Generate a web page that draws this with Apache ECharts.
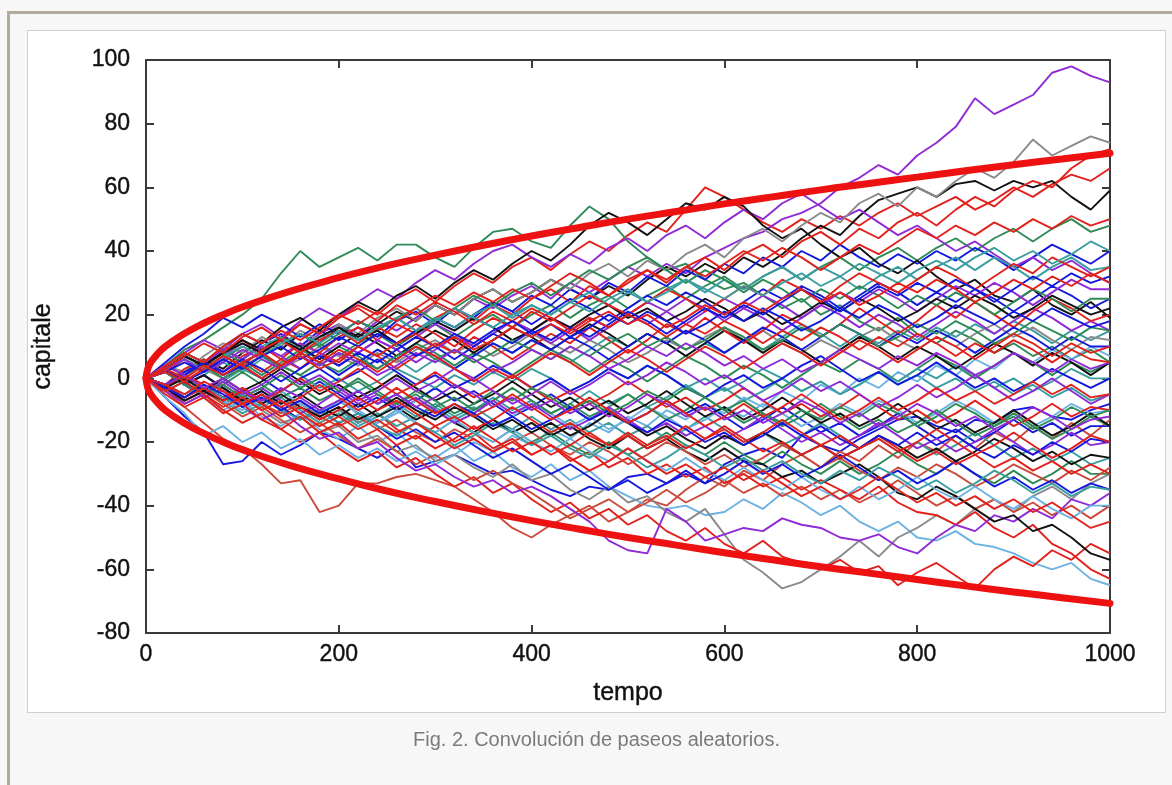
<!DOCTYPE html>
<html>
<head>
<meta charset="utf-8">
<title>Convolución de paseos aleatorios</title>
<script src="https://cdn.jsdelivr.net/npm/echarts@6/dist/echarts.min.js"></script>
<style>
  html, body { margin: 0; padding: 0; width: 1172px; height: 785px; overflow: hidden; background: #f7f7f7; }
  #frame { position: absolute; left: 7px; top: 11px; width: 1200px; height: 800px;
           border-top: 3px solid #b3aa9e; border-left: 3px solid #b3aa9e; }
  #card { position: absolute; left: 27px; top: 30px; width: 1137px; height: 681px;
          background: #fff; border: 1px solid #cfcfcf; }
  #chart { position: absolute; left: 0; top: 0; width: 1172px; height: 785px; }
  #caption { position: absolute; left: 27px; width: 1139px; top: 728px; text-align: center;
             font-family: 'Liberation Sans', Arial, sans-serif; font-size: 20px; color: #7a7a7a; }
</style>
</head>
<body>
<div id="frame"></div>
<div id="card"></div>
<div id="chart"></div>
<div id="caption">Fig. 2. Convolución de paseos aleatorios.</div>
<script>
// --- time axis (one sample every 20 steps) ---
var STEPS = [0,
  20,40,60,80,100,120,140,160,180,200,
  220,240,260,280,300,320,340,360,380,400,
  420,440,460,480,500,520,540,560,580,600,
  620,640,660,680,700,720,740,760,780,800,
  820,840,860,880,900,920,940,960,980,1000];

// --- envelope (thick red curve) ---
var ENV_T     = [0, 2, 5, 10, 20, 40, 60, 80, 100, 150, 200, 250, 300, 350, 400, 450, 500, 550, 600, 650, 700, 750, 800, 850, 900, 950, 1000];
var ENV_UPPER = [0, 3.2, 5, 7, 10, 14.1, 17.3, 20, 22.4, 27.4, 31.6, 35.4, 38.7, 41.8, 44.7, 47.4, 50, 52.4, 54.8, 57, 59.2, 61.2, 63.2, 65.2, 67.1, 68.9, 70.7];
var ENV_LOWER = [0, -3.2, -5, -7, -10, -14.1, -17.3, -20, -22.4, -27.4, -31.6, -35.4, -38.7, -41.8, -44.7, -47.4, -50, -52.4, -54.8, -57, -59.2, -61.2, -63.2, -65.2, -67.1, -68.9, -70.7];

// --- walks, grouped by colour (values read at STEPS) ---
var RED_WALKS = [
  [0, 3,7,4,9,12,8,13,17,14,19, 23,20,25,28,24,29,33,30,35,38, 34,39,43,40,45,49,46,53,60,57, 53,49,46,50,47,51,48,52,55,51, 54,57,53,56,60,57,61,64,62,66],
  [0, -3,-8,-5,-10,-14,-11,-16,-20,-17,-22, -26,-23,-28,-25,-30,-34,-31,-36,-33,-38, -42,-39,-44,-41,-46,-43,-48,-51,-47,-52, -55,-51,-56,-58,-60,-57,-61,-59,-65,-61, -58,-62,-66,-60,-56,-59,-54,-57,-52,-55],
  [0, 2,-2,-6,-3,-8,-5,-10,-7,-12,-9, -14,-11,-16,-19,-15,-20,-17,-22,-19,-24, -21,-26,-23,-28,-25,-30,-27,-31,-28,-33, -30,-34,-31,-35,-32,-35,-38,-34,-39,-42, -43,-46,-42,-47,-50,-46,-52,-55,-60,-63],
  [0, -2,3,6,2,7,10,6,11,8,13, 16,12,17,14,19,22,18,23,20,25, 28,24,29,26,31,34,30,35,38,34, 39,42,38,43,46,42,47,44,49,52, 48,53,57,54,59,62,60,66,70,72],
  [0, 4,1,5,9,6,2,6,3,8,5, 10,7,3,7,11,8,13,10,6,10, 14,11,16,12,8,12,17,14,19,15, 11,15,20,17,13,17,22,18,14,18, 23,19,24,20,16,21,25,22,18,20],
  [0, -3,1,-2,-6,-3,-7,-4,0,-4,-1, 3,-1,-5,-2,2,-2,-6,-3,1,-3, -7,-4,-8,-5,-1,-5,-9,-6,-10,-7, -3,-7,-11,-8,-12,-9,-5,-9,-13,-10, -14,-11,-7,-11,-15,-12,-8,-12,-9,-10],
  [0, 2,6,3,7,4,9,12,8,12,15, 11,16,13,17,14,10,15,19,16,21, 18,22,26,23,20,24,28,25,21,25, 29,26,31,28,24,29,33,30,27,31, 35,32,28,32,36,33,38,35,32,35],
  [0, -2,-6,-3,-7,-4,-8,-12,-9,-13,-10, -6,-10,-7,-11,-15,-12,-16,-13,-9,-13, -17,-14,-18,-21,-17,-21,-18,-22,-19,-15, -19,-23,-20,-24,-21,-25,-22,-18,-22,-26, -23,-27,-24,-28,-25,-29,-26,-30,-27,-30],
  [0, 3,7,11,8,13,16,12,17,14,19, 22,18,23,20,24,21,17,21,18,22, 19,15,19,16,20,17,13,17,14,18, 15,11,15,12,16,13,9,13,10,14, 11,7,11,8,12,9,5,9,6,5],
  [0, -4,-1,-5,-9,-6,-10,-7,-11,-15,-12, -16,-13,-17,-14,-18,-22,-19,-23,-20,-24, -21,-25,-29,-26,-22,-26,-30,-27,-31,-28, -32,-29,-33,-37,-34,-38,-35,-31,-35,-39, -36,-40,-37,-41,-38,-42,-39,-43,-47,-45],
  [0, 4,8,5,10,14,11,15,12,16,20, 17,21,18,22,26,23,27,24,28,25, 29,33,30,26,30,34,31,35,32,36, 40,37,41,38,34,38,42,39,43,47, 44,48,45,49,46,50,47,51,48,50],
  [0, -5,-9,-6,-11,-8,-13,-16,-12,-17,-14, -19,-16,-21,-18,-22,-19,-15,-19,-23,-20, -24,-21,-17,-21,-18,-22,-19,-15,-19,-16, -20,-17,-13,-17,-21,-18,-22,-19,-23,-20, -16,-20,-24,-21,-17,-21,-25,-22,-18,-20],
  [0, 2,-1,3,7,4,0,4,8,5,9, 6,2,6,10,7,3,-1,3,0,4, 8,5,1,5,9,6,2,6,10,7, 3,7,11,8,4,8,12,9,5,9, 13,10,6,10,14,11,7,11,8,10],
  [0, -2,-5,-1,-4,-8,-5,-9,-6,-2,-6, -10,-7,-3,-7,-11,-8,-12,-9,-5,-9, -13,-10,-6,-10,-14,-11,-7,-11,-15,-12, -8,-12,-9,-5,-9,-13,-10,-6,-10,-7, -3,-7,-4,-8,-5,-1,-5,-2,-6,-5],
  [0, 3,0,4,1,5,8,4,7,3,6, 10,7,11,14,10,13,9,12,16,13, 17,14,18,21,17,20,16,19,23,20, 24,21,25,28,24,27,23,26,30,27, 31,28,24,27,31,28,32,29,33,30]
];
var DARKRED_WALKS = [
  [0, -4,-9,-14,-19,-22,-27,-33,-32,-42,-40, -33,-33,-31,-30,-32,-34,-38,-42,-47,-50, -46,-43,-40,-45,-42,-38,-40,-35,-31,-34, -29,-32,-27,-24,-28,-23,-26,-21,-25,-20, -23,-18,-22,-17,-20,-15,-19,-14,-18,-13],
  [0, -3,-7,-4,-8,-12,-9,-13,-17,-14,-18, -22,-19,-23,-27,-24,-28,-32,-29,-33,-36, -40,-44,-41,-38,-42,-39,-35,-39,-36,-32, -36,-33,-37,-34,-38,-35,-39,-36,-32,-36, -40,-37,-41,-38,-42,-39,-43,-40,-44,-40],
  [0, -2,-6,-3,-7,-4,-8,-11,-8,-12,-15, -12,-16,-13,-17,-20,-16,-19,-23,-20,-17, -21,-24,-20,-23,-27,-24,-20,-23,-27,-24, -28,-25,-21,-24,-28,-25,-29,-32,-28,-31, -27,-30,-34,-31,-27,-30,-33,-29,-32,-28]
];
var BLUE_WALKS = [
  [0, -6,-12,-17,-27,-26,-20,-24,-21,-17,-19, -22,-25,-21,-28,-26,-24,-27,-30,-29,-32, -35,-37,-34,-35,-31,-30,-33,-30,-33,-27, -24,-22,-25,-18,-21,-23,-19,-16,-13,-12, -15,-17,-13,-14,-10,-9,-12,-13,-10,-8],
  [0, 3,7,4,9,6,11,14,10,15,12, 16,13,18,21,17,22,19,24,21,26, 23,28,25,30,27,32,29,34,31,36, 33,38,35,40,37,42,38,35,39,36, 40,37,41,38,34,38,42,39,36,40],
  [0, 2,-2,1,-3,-7,-4,-8,-5,-1,-5, -9,-6,-10,-7,-3,-7,-4,-8,-12,-9, -5,-9,-13,-10,-14,-11,-7,-11,-8,-12, -16,-13,-9,-13,-17,-14,-18,-15,-11,-15, -19,-16,-20,-17,-13,-17,-14,-18,-15,-15],
  [0, 5,10,14,19,16,20,17,13,17,14, 18,15,11,15,19,16,20,24,21,17, 21,25,22,18,22,26,23,27,24,20, 24,28,25,29,26,22,26,30,27,23, 27,24,28,25,21,25,29,26,22,25],
  [0, -2,2,5,1,4,0,-4,0,3,-1, 2,6,2,-2,1,-3,0,4,1,-3, 0,-4,-1,3,0,4,1,-3,-6,-2, 1,-3,0,4,7,3,-1,2,-2,1, 5,1,-3,0,-4,-1,3,0,-3,0],
  [0, -3,-6,-2,-6,-9,-5,-9,-13,-10,-14, -11,-15,-19,-16,-20,-17,-21,-25,-22,-26, -30,-27,-31,-35,-32,-36,-33,-29,-33,-30, -26,-30,-27,-31,-28,-24,-28,-32,-29,-33, -30,-26,-30,-34,-31,-35,-32,-36,-33,-35],
  [0, 3,-1,2,6,3,7,4,8,5,1, 5,9,6,10,7,3,7,11,8,12, 9,13,10,6,10,14,11,15,12,8, 12,16,13,9,13,17,14,10,14,11, 15,12,8,12,16,13,9,13,10,10],
  [0, -2,1,5,2,6,3,-1,3,7,4, 8,5,9,13,10,6,10,14,11,15, 12,16,13,17,21,18,14,18,22,19, 23,20,24,28,25,21,25,29,26,30, 27,31,28,24,28,32,29,33,30,32],
  [0, -3,-6,-2,-5,-9,-6,-10,-7,-11,-8, -4,-8,-5,-9,-12,-8,-11,-15,-12,-16, -13,-9,-13,-10,-14,-17,-13,-16,-20,-17, -21,-18,-14,-18,-15,-19,-22,-18,-21,-17, -21,-18,-22,-25,-21,-24,-20,-23,-19,-20],
  [0, 2,5,2,6,3,7,10,6,9,13, 10,14,11,7,10,14,11,15,18,14, 17,13,16,20,17,21,18,14,17,21, 18,22,19,15,18,22,19,23,20,16, 19,23,20,17,21,18,22,19,16,18]
];
var PURPLE_WALKS = [
  [0, 3,6,2,7,11,8,12,9,14,17, 13,18,15,19,23,20,25,22,26,29, 25,30,27,31,35,32,36,33,38,41, 44,46,50,52,55,60,63,67,64,70, 74,79,88,83,86,89,96,98,95,93],
  [0, 4,8,12,9,14,17,13,18,22,19, 24,28,25,30,34,31,36,40,42,38, 35,39,36,41,44,40,45,48,44,49, 53,50,55,58,54,50,53,49,45,48, 44,40,43,39,35,38,34,37,33,30],
  [0, 3,-2,-6,-4,-9,-13,-10,-15,-19,-17, -22,-20,-25,-29,-27,-31,-34,-32,-36,-34, -37,-41,-45,-51,-54,-55,-41,-45,-51,-49, -47,-48,-44,-46,-47,-50,-51,-49,-53,-55, -50,-46,-48,-43,-45,-41,-44,-38,-40,-36],
  [0, -3,1,5,2,6,10,7,11,8,4, 8,12,9,13,17,14,10,14,18,15, 19,16,12,16,20,17,21,25,22,18, 22,19,15,19,23,20,16,20,17,13, 17,21,18,14,18,22,19,15,18,15],
  [0, 2,-1,-5,-2,-6,-3,-7,-11,-8,-4, -8,-5,-9,-6,-10,-14,-11,-7,-11,-8, -12,-16,-13,-9,-13,-17,-14,-18,-15,-19, -16,-12,-16,-20,-17,-21,-18,-14,-18,-22, -19,-23,-20,-16,-20,-24,-21,-17,-21,-20],
  [0, 4,1,5,9,6,10,7,3,7,11, 8,12,9,5,9,13,10,14,18,15, 11,15,19,16,20,24,21,17,21,25, 22,26,23,19,23,27,24,28,25,21, 25,29,26,30,27,23,27,31,28,28],
  [0, -4,-8,-5,-1,-5,-2,2,-2,1,-3, -7,-4,0,-4,-1,3,0,-4,-8,-5, -1,-5,-2,2,-2,1,5,2,-2,1, -3,-7,-4,0,-4,-1,-5,-9,-6,-2, -6,-3,1,-3,-7,-4,0,-4,-8,-5],
  [0, 3,6,2,5,9,6,3,7,4,8, 5,1,4,8,5,9,6,2,5,9, 6,10,7,3,6,10,7,11,8,4, 7,3,6,2,5,9,6,3,7,4, 8,5,1,4,8,5,2,6,3,5],
  [0, -2,1,-3,0,-4,-7,-3,-6,-10,-7, -4,-8,-5,-9,-6,-2,-5,-9,-6,-10, -7,-11,-8,-12,-9,-5,-8,-12,-9,-13, -10,-14,-11,-7,-10,-14,-11,-15,-12,-8, -11,-15,-12,-16,-13,-9,-12,-16,-13,-12]
];
var GREEN_WALKS = [
  [0, 4,9,12,16,20,25,33,40,35,38, 41,37,42,42,38,35,41,46,47,43, 41,48,54,50,43,38,34,36,31,28, 30,26,22,25,20,23,18,15,19,14, 11,15,12,8,11,7,10,6,9,5],
  [0, -2,2,5,1,5,8,4,8,11,7, 11,14,10,14,17,13,17,20,16,20, 23,19,23,26,22,26,29,25,29,32, 28,32,35,31,35,38,34,38,41,37, 41,44,40,44,47,43,47,50,46,48],
  [0, 2,-2,-5,-1,-5,-8,-4,-8,-11,-7, -11,-14,-10,-14,-17,-13,-17,-20,-16,-20, -17,-21,-24,-20,-24,-21,-17,-21,-24,-20, -24,-27,-23,-27,-30,-26,-30,-27,-23,-27, -30,-26,-30,-33,-29,-33,-30,-26,-30,-30],
  [0, 3,7,4,8,5,1,5,9,6,10, 7,3,7,11,8,4,8,5,1,5, 9,6,2,6,3,-1,3,7,4,0, 4,1,-3,1,5,2,6,3,-1,3, 7,4,0,4,8,5,1,5,2,5],
  [0, -4,-1,-5,-2,2,-2,-6,-3,-7,-4, 0,-4,-8,-5,-9,-6,-10,-7,-3,-7, -11,-8,-12,-9,-5,-9,-13,-10,-6,-10, -14,-11,-15,-12,-8,-12,-16,-13,-17,-14, -10,-14,-18,-15,-11,-15,-19,-16,-12,-15],
  [0, 3,6,2,6,10,7,11,14,10,14, 18,15,19,22,18,22,26,23,27,30, 26,30,34,31,35,38,34,30,34,31, 27,31,28,24,28,25,29,26,22,26, 23,27,24,20,24,28,25,21,25,25],
  [0, 2,-2,-5,-2,-6,-3,1,-3,0,-4, -1,-5,-8,-4,-7,-11,-8,-4,-7,-3, -6,-10,-7,-11,-8,-4,-7,-3,-6,-10, -7,-11,-14,-10,-13,-9,-12,-8,-11,-15, -12,-8,-11,-15,-12,-16,-13,-9,-12,-10],
  [0, -2,1,4,0,3,7,4,1,5,2, 6,3,7,10,6,9,5,8,12,9, 6,10,7,11,14,10,13,9,12,16, 13,9,12,16,13,17,14,10,13,17, 14,18,15,11,14,18,15,12,16,15]
];
var BLACK_WALKS = [
  [0, -3,2,6,3,8,12,9,14,11,16, 13,17,21,18,23,20,25,28,24,27, 31,28,25,29,26,31,35,32,36,33, 38,35,39,44,48,45,51,56,58,60, 57,61,62,59,62,60,62,57,53,59],
  [0, 4,8,5,10,14,11,16,19,15,20, 24,21,26,29,25,30,34,31,36,40, 37,42,48,52,49,45,50,55,53,57, 54,48,44,47,42,38,41,36,33,37, 32,28,31,26,24,28,23,20,24,19],
  [0, 2,-2,1,-3,-7,-4,-8,-5,-9,-12, -8,-12,-9,-13,-10,-14,-17,-13,-17,-14, -18,-15,-19,-22,-18,-22,-19,-23,-26,-22, -26,-27,-31,-29,-33,-30,-27,-31,-36,-38, -34,-37,-41,-45,-43,-48,-46,-50,-55,-57],
  [0, 3,7,4,8,12,9,13,10,6,10, 14,11,7,11,15,12,8,12,16,13, 9,13,17,14,10,14,11,7,11,15, 12,8,12,9,5,9,13,10,6,10, 7,3,7,11,8,4,8,5,1,5],
  [0, -3,-7,-4,0,-4,-1,3,-1,-5,-2, -6,-3,1,-3,-7,-4,-8,-5,-1,-5, -9,-6,-10,-7,-11,-8,-4,-8,-12,-9, -13,-10,-6,-10,-14,-11,-15,-12,-8,-12, -16,-13,-17,-14,-10,-14,-18,-15,-11,-15],
  [0, 3,7,4,8,11,8,12,9,13,16, 12,15,11,14,18,15,19,16,12,15, 19,16,20,23,19,22,18,21,25,22, 18,21,17,20,24,21,25,22,18,21, 25,22,26,23,19,22,26,23,20,22],
  [0, -3,0,-4,-7,-4,-8,-5,-9,-12,-9, -13,-10,-6,-10,-13,-9,-12,-16,-13,-17, -14,-18,-15,-11,-14,-18,-15,-19,-22,-18, -21,-17,-20,-24,-21,-25,-22,-18,-21,-25, -22,-26,-23,-19,-22,-26,-23,-27,-24,-25]
];
var TEAL_WALKS = [
  [0, -3,-7,-4,-8,-5,-9,-6,-10,-14,-11, -15,-12,-8,-12,-9,-13,-10,-6,-10,-7, -11,-8,-4,-8,-5,-9,-6,-2,-6,-3, -7,-4,0,-4,-1,-5,-2,2,-2,1, -3,0,-4,-1,-5,-2,-6,-3,-7,-5],
  [0, 2,-2,1,5,2,6,3,7,4,8, 5,9,6,2,6,3,7,11,8,12, 9,5,9,13,10,14,11,7,11,8, 12,9,13,17,14,10,14,11,15,12, 16,13,17,14,18,15,11,15,12,15],
  [0, -2,-6,-3,-7,-11,-8,-12,-9,-13,-10, -14,-11,-15,-12,-8,-12,-9,-13,-16,-12, -16,-13,-17,-14,-18,-15,-19,-16,-12,-16, -20,-17,-21,-18,-14,-18,-22,-19,-23,-20, -24,-21,-17,-21,-25,-22,-26,-23,-27,-25],
  [0, 3,0,-4,-1,3,0,4,1,-3,0, -4,-1,3,0,-3,1,-2,2,-1,3, 0,-4,-1,3,0,4,1,-3,0,-4, -1,3,0,-4,-1,-5,-2,2,-1,3, 0,4,1,-3,0,-4,-1,3,0,0],
  [0, 4,8,5,9,6,10,13,9,13,16, 12,16,19,15,19,16,20,23,19,23, 20,24,27,23,27,24,28,31,27,31, 28,32,35,31,35,32,28,32,35,31, 35,38,34,38,35,31,35,38,34,35],
  [0, -2,-5,-2,-6,-9,-6,-10,-13,-10,-14, -11,-15,-18,-14,-17,-21,-18,-14,-17,-21, -18,-22,-25,-21,-24,-28,-25,-21,-24,-28, -25,-29,-26,-30,-33,-29,-32,-28,-31,-35, -32,-36,-33,-29,-32,-36,-33,-37,-34,-35],
  [0, 3,6,3,7,10,7,11,14,11,15, 12,16,19,15,18,22,19,16,20,23, 20,24,21,25,28,24,27,31,28,25, 29,26,30,33,29,32,36,33,30,34, 37,34,38,41,37,40,36,39,43,40]
];
var LIGHTBLUE_WALKS = [
  [0, -4,-1,-6,-10,-7,-12,-15,-11,-16,-19, -15,-20,-17,-22,-25,-21,-26,-23,-28,-31, -27,-32,-29,-34,-37,-40,-41,-40,-43,-42, -38,-41,-36,-39,-43,-40,-45,-48,-45,-50, -51,-48,-52,-53,-55,-58,-60,-58,-63,-65],
  [0, -6,-11,-18,-15,-20,-17,-22,-19,-24,-21, -25,-22,-26,-23,-27,-24,-20,-23,-18,-21, -16,-19,-14,-17,-12,-15,-10,-13,-8,-11, -6,-9,-4,-7,-2,-5,0,-3,2,-1, 4,1,6,3,8,5,9,6,10,7],
  [0, 2,-2,-5,-1,-5,-8,-4,-8,-11,-7, -11,-14,-10,-14,-17,-13,-17,-20,-16,-20, -23,-19,-23,-26,-22,-26,-29,-25,-29,-32, -28,-32,-35,-31,-35,-38,-34,-38,-35,-31, -35,-38,-34,-38,-41,-37,-41,-44,-40,-40],
  [0, -3,-6,-3,-7,-10,-7,-4,-8,-11,-7, -10,-14,-11,-7,-10,-14,-11,-15,-12,-8, -11,-15,-12,-16,-13,-9,-12,-16,-13,-9, -12,-8,-11,-15,-12,-8,-11,-7,-10,-14, -11,-7,-10,-14,-11,-15,-12,-8,-11,-10]
];
var GRAY_WALKS = [
  [0, -3,1,-4,-8,-5,-10,-14,-12,-17,-15, -20,-18,-23,-21,-26,-24,-28,-31,-27,-32, -30,-35,-38,-34,-39,-37,-42,-45,-41,-49, -57,-61,-66,-64,-60,-56,-51,-56,-50,-47, -43,-46,-41,-38,-42,-37,-34,-38,-33,-30],
  [0, 4,2,7,11,8,13,10,15,12,17, 14,19,22,18,23,20,25,28,24,27, 31,28,33,36,32,37,34,39,42,38, 44,47,43,48,52,49,55,58,54,60, 57,62,66,63,68,75,70,73,76,74],
  [0, 2,-1,3,0,4,7,3,6,10,7, 4,8,5,9,12,8,11,7,10,14, 11,8,12,9,5,8,12,9,13,16, 12,15,11,8,12,9,13,16,12,9, 13,10,14,17,13,16,12,9,13,12]
];

var GROUPS = [
  { walks: RED_WALKS,       color: '#e2201c' },
  { walks: GREEN_WALKS,     color: '#2e8b57' },
  { walks: BLUE_WALKS,      color: '#1418dc' },
  { walks: PURPLE_WALKS,    color: '#8f2ad6' },
  { walks: TEAL_WALKS,      color: '#3a9ea0' },
  { walks: BLACK_WALKS,     color: '#111111' },
  { walks: DARKRED_WALKS,   color: '#cc4a3c' },
  { walks: LIGHTBLUE_WALKS, color: '#6cb2e2' },
  { walks: GRAY_WALKS,      color: '#8a8a8a' }
];

var FONT = "'Liberation Sans', Arial, Helvetica, sans-serif";
var AXIS_COLOR = '#3a3a3a';

function walkSeries(values, color) {
  var data = [];
  for (var i = 0; i < STEPS.length; i++) data.push([STEPS[i], values[i]]);
  return {
    type: 'line', data: data, symbol: 'none', silent: true, z: 2,
    lineStyle: { color: color, width: 1.9 }
  };
}

function envelopeSeries(values) {
  var data = [];
  for (var i = 0; i < ENV_T.length; i++) data.push([ENV_T[i], values[i]]);
  return {
    type: 'line', data: data, symbol: 'none', silent: true, smooth: true, z: 5,
    lineStyle: { color: '#ee1111', width: 7, cap: 'round' }
  };
}

// interleave the colour groups so no colour sits entirely on top
var series = [];
var maxLen = 0;
GROUPS.forEach(function(g) { maxLen = Math.max(maxLen, g.walks.length); });
for (var k = 0; k < maxLen; k++) {
  GROUPS.forEach(function(g) {
    if (g.walks[k]) series.push(walkSeries(g.walks[k], g.color));
  });
}
series.push(envelopeSeries(ENV_UPPER));
series.push(envelopeSeries(ENV_LOWER));

function axisBase(extra) {
  var a = {
    type: 'value',
    splitLine: { show: false },
    axisLine: { show: true, onZero: false, lineStyle: { color: AXIS_COLOR, width: 2 } },
    axisTick: { show: true, inside: true, length: 8, lineStyle: { color: AXIS_COLOR, width: 2 } }
  };
  for (var key in extra) a[key] = extra[key];
  return a;
}

// slightly heavier text, like the original anti-aliased Helvetica
var tickText = { fontFamily: FONT, fontSize: 23, color: '#111', textBorderColor: '#111', textBorderWidth: 0.4 };
var nameText = { fontFamily: FONT, fontSize: 25, color: '#111', textBorderColor: '#111', textBorderWidth: 0.4 };

function plain(v) { return String(v); }

var chart = echarts.init(document.getElementById('chart'), null, { renderer: 'canvas' });
chart.setOption({
  animation: false,
  backgroundColor: 'transparent',
  grid: { left: 146, top: 60, width: 964, height: 573 },
  xAxis: [
    axisBase({
      min: 0, max: 1000, interval: 200, position: 'bottom',
      axisLabel: Object.assign({ margin: 10, formatter: plain }, tickText),
      name: 'tempo', nameLocation: 'middle', nameGap: 48,
      nameTextStyle: nameText
    }),
    axisBase({
      min: 0, max: 1000, interval: 200, position: 'top',
      axisLabel: { show: false }
    })
  ],
  yAxis: [
    axisBase({
      min: -80, max: 100, interval: 20, position: 'left',
      axisLabel: Object.assign({ margin: 16, formatter: plain }, tickText),
      name: 'capitale', nameLocation: 'middle', nameGap: 90, nameRotate: 90,
      nameTextStyle: nameText
    }),
    axisBase({
      min: -80, max: 100, interval: 20, position: 'right',
      axisLabel: { show: false }
    })
  ],
  series: series
});
</script>
</body>
</html>
